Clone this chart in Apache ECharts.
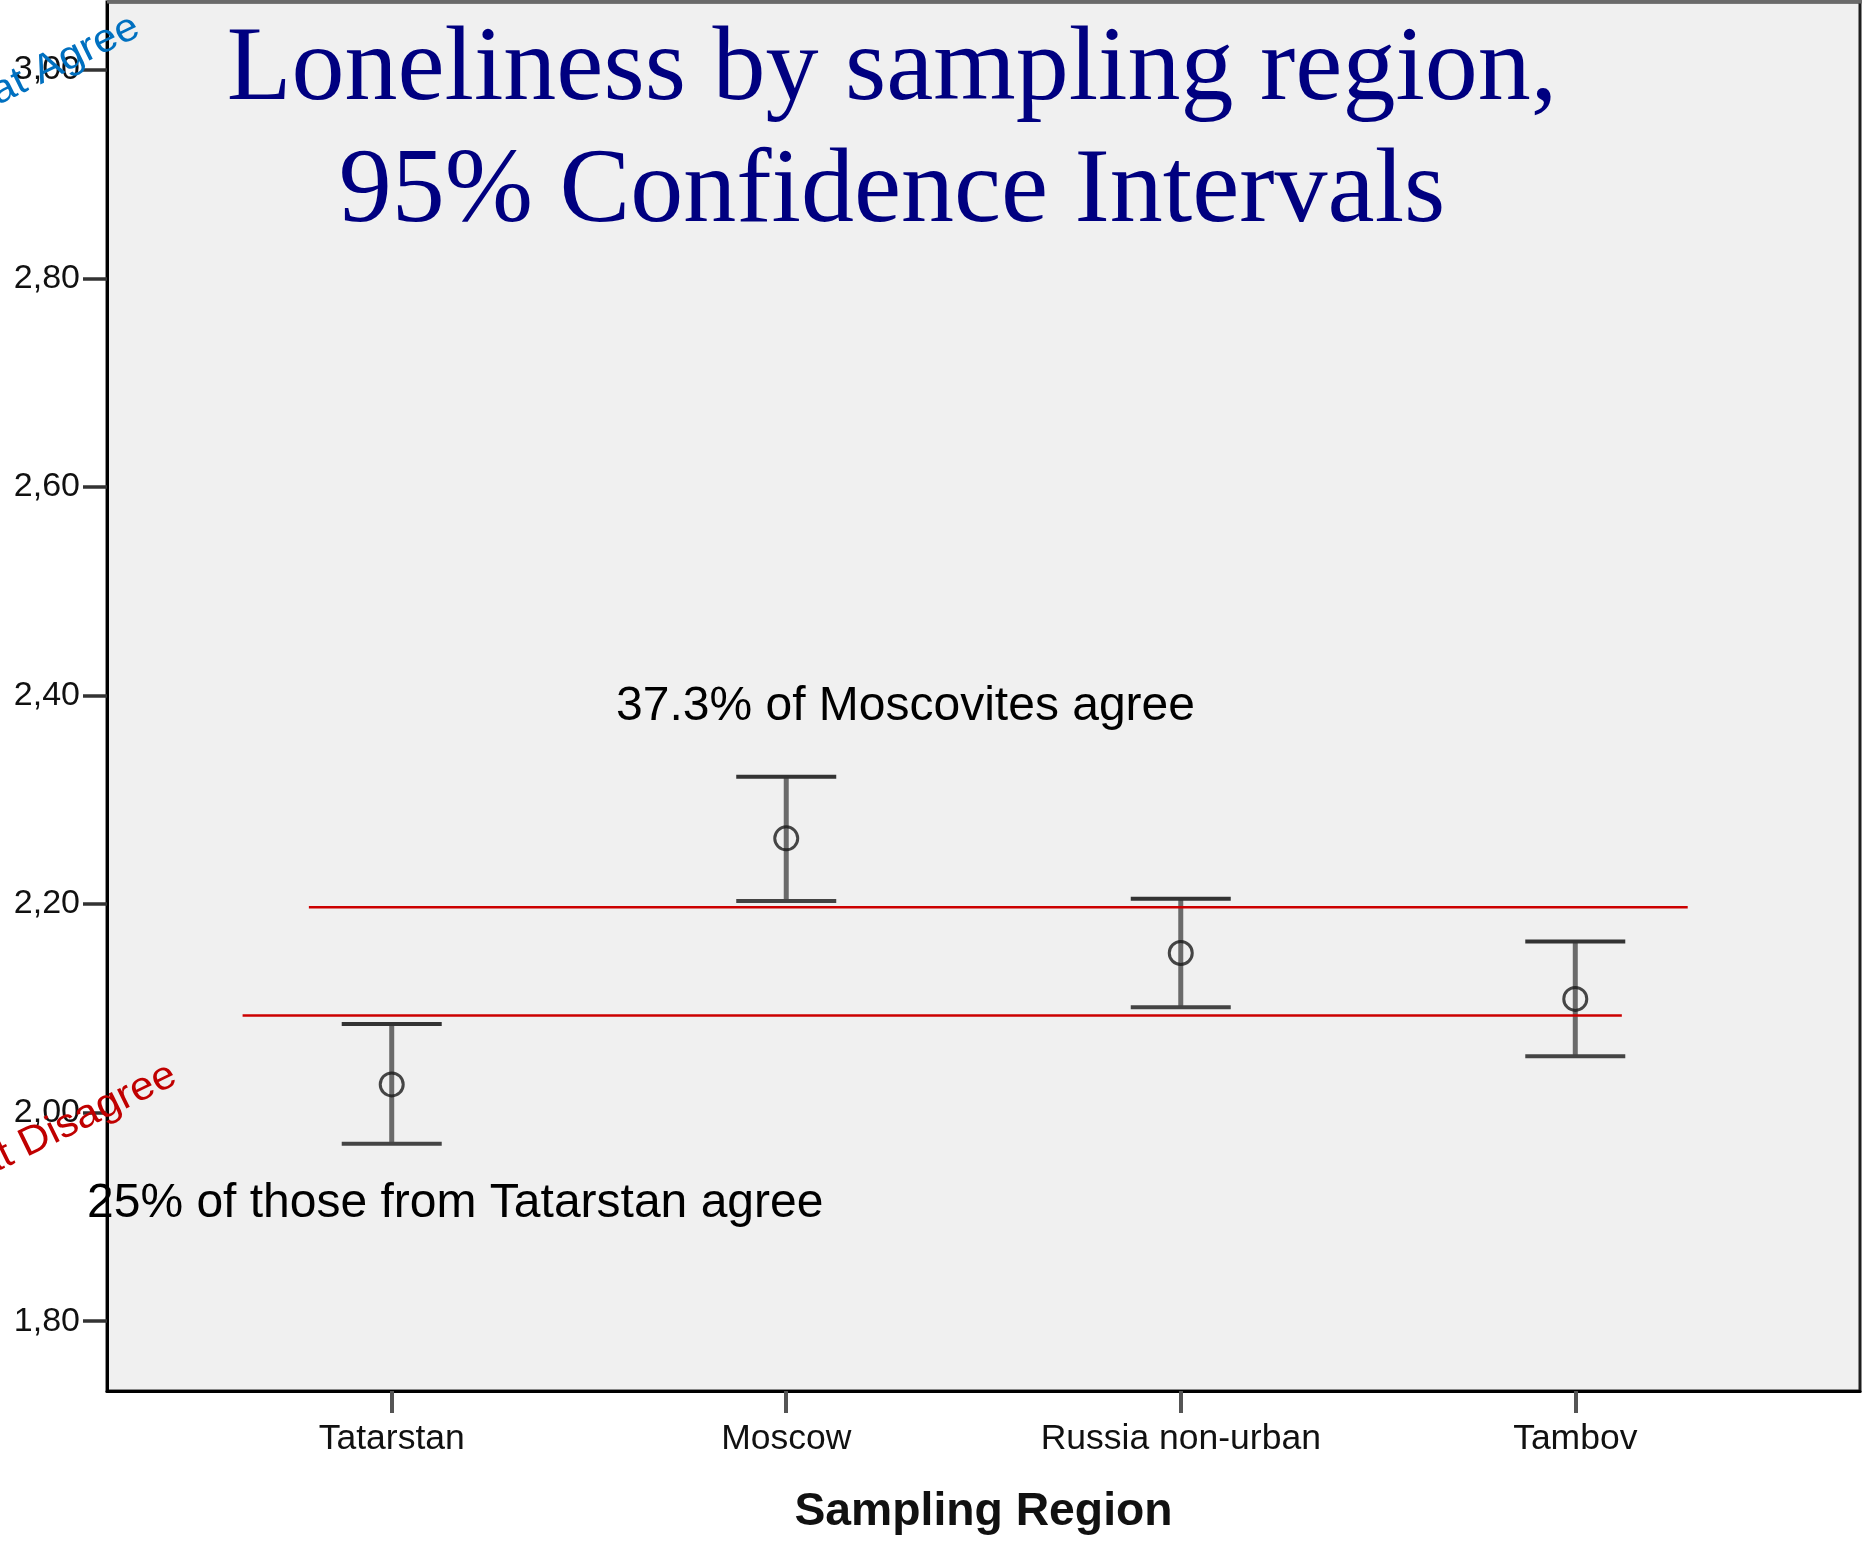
<!DOCTYPE html>
<html>
<head>
<meta charset="utf-8">
<script src="https://cdn.jsdelivr.net/npm/echarts@6/dist/echarts.min.js"></script>
<style>
html,body{margin:0;padding:0;background:#fff;}
#chart{width:1864px;height:1543px;}
</style>
</head>
<body>
<div id="chart"></div>
<script>
// ---- data ----
const categories = ['Tatarstan', 'Moscow', 'Russia non-urban', 'Tambov'];
const means = [2.027, 2.263, 2.153, 2.109];
const ciLower = [1.970, 2.203, 2.101, 2.054];
const ciUpper = [2.085, 2.322, 2.205, 2.164];
const yTickValues = [1.8, 2.0, 2.2, 2.4, 2.6, 2.8, 3.0];
const refUpperValue = 2.197;
const refUpperX = [-0.21, 3.285];
const refLowerValue = 2.093;
const refLowerX = [-0.378, 3.118];
const titleLines = ['Loneliness by sampling region,', '95% Confidence Intervals'];
const noteMoscow = '37.3% of Moscovites agree';
const noteTatarstan = '25% of those from Tatarstan agree';
const labelAgree = 'Somewhat Agree';
const labelDisagree = 'Somewhat Disagree';
const xAxisTitle = 'Sampling Region';

const SANS = '"Liberation Sans", Arial, sans-serif';
const SERIF = '"Liberation Serif", "Times New Roman", serif';

const chart = echarts.init(document.getElementById('chart'), null, {renderer: 'canvas'});
const catIdx = categories.map((c, i) => i);

const option = {
  animation: false,
  backgroundColor: '#ffffff',
  grid: {
    left: 107, top: 2, width: 1753, height: 1389,
    show: true, backgroundColor: '#f0f0f0', borderColor: '#1e1e1e', borderWidth: 3
  },
  xAxis: {
    type: 'value', min: -0.7217, max: 3.7217,
    splitLine: {show: false},
    axisLine: {show: true, onZero: false, lineStyle: {color: '#000', width: 3}},
    axisTick: {show: true, customValues: catIdx, length: 22, lineStyle: {color: '#555', width: 4}},
    axisLabel: {
      customValues: catIdx, margin: 30, color: '#111', fontFamily: SANS, fontSize: 35.5,
      formatter: v => categories[Math.round(v)]
    },
    name: xAxisTitle, nameLocation: 'middle', nameGap: 98,
    nameTextStyle: {fontFamily: SANS, fontSize: 46.3, fontWeight: 'bold', color: '#111'}
  },
  yAxis: {
    type: 'value', min: 1.733, max: 3.065,
    splitLine: {show: false},
    axisLine: {show: true, onZero: false, lineStyle: {color: '#000', width: 3}},
    axisTick: {show: true, customValues: yTickValues, length: 24, lineStyle: {color: '#333', width: 3.5}},
    axisLabel: {
      customValues: yTickValues, margin: 27, color: '#111', fontFamily: SANS, fontSize: 34,
      formatter: v => v.toFixed(2).replace('.', ',')
    }
  },
  series: [
    {
      type: 'custom', z: 3,
      data: catIdx.map(i => [i, ciLower[i], ciUpper[i]]),
      renderItem: function (params, api) {
        const x = api.value(0);
        const lo = api.coord([x, api.value(1)]);
        const hi = api.coord([x, api.value(2)]);
        const hw = 50;
        return {
          type: 'group',
          children: [
            {type: 'line', shape: {x1: lo[0], y1: lo[1], x2: hi[0], y2: hi[1]}, style: {stroke: '#6a6a6a', lineWidth: 5}},
            {type: 'line', shape: {x1: hi[0] - hw, y1: hi[1], x2: hi[0] + hw, y2: hi[1]}, style: {stroke: '#333', lineWidth: 4}},
            {type: 'line', shape: {x1: lo[0] - hw, y1: lo[1], x2: lo[0] + hw, y2: lo[1]}, style: {stroke: '#444', lineWidth: 4}}
          ]
        };
      }
    },
    {
      type: 'scatter', z: 4,
      symbol: 'circle', symbolSize: 23,
      itemStyle: {color: 'rgba(0,0,0,0)', borderColor: '#1a1a1a', borderWidth: 3},
      data: catIdx.map(i => [i, means[i]])
    },
    {
      type: 'line', z: 5, showSymbol: false, silent: true,
      lineStyle: {color: '#cc0000', width: 2.5},
      data: refUpperX.map(x => [x, refUpperValue])
    },
    {
      type: 'line', z: 5, showSymbol: false, silent: true,
      lineStyle: {color: '#cc0000', width: 2.5},
      data: refLowerX.map(x => [x, refLowerValue])
    }
  ],
  graphic: [
    {type: 'rect', z: 90, shape: {x: 107, y: 0, width: 1755, height: 3.5}, style: {fill: '#6a6a6a'}},
    {type: 'text', z: 100, x: 892, y: 71, style: {text: titleLines[0], font: '106px ' + SERIF, fill: '#000080', align: 'center', verticalAlign: 'middle'}},
    {type: 'text', z: 100, x: 892, y: 193, style: {text: titleLines[1], font: '106px ' + SERIF, fill: '#000080', align: 'center', verticalAlign: 'middle'}},
    {type: 'text', z: 100, x: 616, y: 707, style: {text: noteMoscow, font: '48px ' + SANS, fill: '#000', align: 'left', verticalAlign: 'middle'}},
    {type: 'text', z: 100, x: 87, y: 1204, style: {text: noteTatarstan, font: '48px ' + SANS, fill: '#000', align: 'left', verticalAlign: 'middle'}},
    {type: 'text', z: 100, x: 137, y: 25, rotation: 26 * Math.PI / 180, scaleX: 1.06,
      style: {text: labelAgree, font: '40px ' + SANS, fill: '#0070c0', align: 'right', verticalAlign: 'middle'}},
    {type: 'text', z: 100, x: 174, y: 1073, rotation: 26 * Math.PI / 180, scaleX: 1.06,
      style: {text: labelDisagree, font: '40px ' + SANS, fill: '#c00000', align: 'right', verticalAlign: 'middle'}}
  ]
};
chart.setOption(option);
</script>
</body>
</html>
